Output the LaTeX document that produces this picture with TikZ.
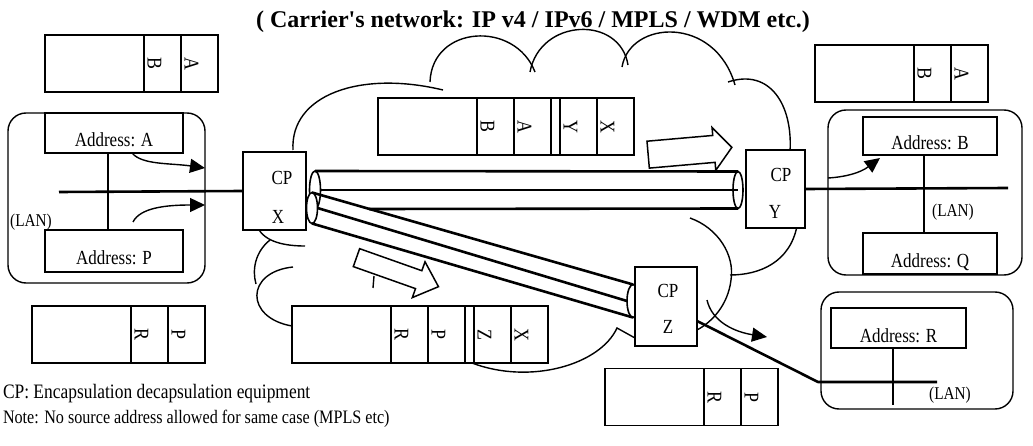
\documentclass[tikz,border=0pt]{standalone}
\usepackage{graphicx}
\usepackage{fontspec}
\setmainfont{Liberation Serif}
\newfontfamily\narrowfont{Liberation Serif}[FakeStretch=0.85]
\usetikzlibrary{arrows.meta,positioning,shapes.geometric}
\newcommand{\hdr}[1]{\rotatebox{-90}{\rule{0pt}{30pt}#1}}

\begin{document}
\begin{tikzpicture}[
  x=1pt, y=-1pt,
  node distance=0pt,
  every node/.style={outer sep=0pt},
  txt/.style={font=\narrowfont\fontsize{20}{20}\selectfont, inner sep=0pt},
  pay/.style={draw, line width=1.3pt, fill=white, minimum width=99pt, minimum height=57pt, inner sep=0pt, font=\narrowfont\fontsize{21}{21}\selectfont},
  fld/.style={pay, minimum width=37pt},
  gap/.style={pay, minimum width=9pt},
  addr/.style={draw, line width=1.3pt, fill=white, minimum height=40pt, inner sep=0pt, text height=28pt, text depth=0pt, font=\narrowfont\fontsize{20}{20}\selectfont},
  lan/.style={draw, line width=1.4pt, rounded corners=18pt, inner sep=0pt},
  cp/.style={draw, line width=2.8pt, fill=white, inner sep=0pt},
  ring/.style={ellipse, draw, line width=1.6pt, fill=white, inner sep=0pt},
  pipe/.style={line width=2.6pt},
  wire/.style={line width=2.6pt},
  cloudline/.style={line width=1.4pt},
  hop/.style={line width=1.4pt, -{Triangle[length=15pt,width=14pt]}},
  fat/.style={draw, line width=1.5pt, fill=white, line join=miter}
]
\useasboundingbox (0,0) rectangle (1033,446);

\node[font=\bfseries\fontsize{24}{24}\selectfont, anchor=base, inner sep=0pt] (title) at (533,28) {( Carrier\textquotesingle s network: IP v4 / IPv6 / MPLS / WDM etc.)};

% cloud of the carrier network
\draw[cloudline] (293,150) .. controls (290,95) and (360,70) .. (443,90);
\draw[cloudline] (430,82) .. controls (432,25) and (515,20) .. (535,72);
\draw[cloudline] (530,72) .. controls (540,18) and (620,15) .. (628,65);
\draw[cloudline] (622,67) .. controls (630,20) and (715,15) .. (735,85);
\draw[cloudline] (728,82) .. controls (770,68) and (793,105) .. (790,152);
\draw[cloudline] (797,226) .. controls (790,262) and (760,275) .. (730,275);
\draw[cloudline] (690,218) .. controls (718,228) and (735,255) .. (731,280) .. controls (728,305) and (712,322) .. (697,330);
\draw[cloudline] (635,338) -- (617,328) .. controls (600,365) and (530,385) .. (472,363);
\draw[cloudline] (292,326) .. controls (245,318) and (245,272) .. (293,267);
\draw[cloudline] (270,240) .. controls (255,252) and (252,270) .. (256,284);
\draw[cloudline] (258,228) .. controls (265,242) and (285,246) .. (305,246);
\draw[cloudline] (374,276) -- (373,288);

% tunnels
\node[ring, minimum width=11pt, minimum height=38pt] (ringxa) at (315,190) {};
\node[ring, minimum width=11pt, minimum height=31pt] (ringxb) at (312,208) {};
\node[ring, minimum width=10pt, minimum height=37pt, fill=none] (ringy) at (738,190) {};
\node[ring, minimum width=12pt, minimum height=33pt, fill=none] (ringz) at (633,301) {};
\coordinate (hb) at (369,209);
\draw[pipe] (ringxa.north) -- (ringy.north);
\draw[pipe] (ringxa.east) -- (ringy.center);
\draw[pipe] (hb) -- (ringy.south);
\draw[pipe] (ringxb.north) -- (ringz.north);
\draw[pipe] (ringxb.east) -- (ringz.west);
\draw[pipe] (ringxb.south) -- (ringz.south);

% CP equipment
\node[cp, minimum width=63pt, minimum height=78pt] (cpx) at (274.5,191) {};
\node[cp, minimum width=59pt, minimum height=78pt] (cpy) at (775.5,189) {};
\node[cp, minimum width=62pt, minimum height=79pt] (cpz) at (666,306.5) {};
\node[txt] (cpxa) at (282,178) {CP};
\node[txt] (cpxb) at (278,217) {X};
\node[txt] (cpya) at (781,175) {CP};
\node[txt] (cpyb) at (775,212) {Y};
\node[txt] (cpza) at (668,291) {CP};
\node[txt] (cpzb) at (668,327) {Z};

% packets
\node[pay] (pa) at (94.5,63.5) {};
\node[fld, right=of pa] (pab) {\hdr{B}};
\node[fld, right=of pab] (paa) {\hdr{A}};

\node[pay] (pb) at (864.5,73.5) {};
\node[fld, right=of pb] (pbb) {\hdr{B}};
\node[fld, right=of pbb] (pba) {\hdr{A}};

\node[pay] (pc) at (427.5,126.5) {};
\node[fld, right=of pc] (pcb) {\hdr{B}};
\node[fld, right=of pcb] (pca) {\hdr{A}};
\node[gap, right=of pca] (pcg) {};
\node[fld, right=of pcg] (pcy) {\hdr{Y}};
\node[fld, right=of pcy] (pcx) {\hdr{X}};

\node[pay] (pd) at (81.5,334.5) {};
\node[fld, right=of pd] (pdr) {\hdr{R}};
\node[fld, right=of pdr] (pdp) {\hdr{P}};

\node[pay] (pe) at (341.5,334.5) {};
\node[fld, right=of pe] (per) {\hdr{R}};
\node[fld, right=of per] (pep) {\hdr{P}};
\node[gap, right=of pep] (peg) {};
\node[fld, right=of peg] (pez) {\hdr{Z}};
\node[fld, right=of pez] (pex) {\hdr{X}};

\node[pay] (pf) at (654.5,397) {};
\node[fld, right=of pf] (pfr) {\hdr{R}};
\node[fld, right=of pfr] (pfp) {\hdr{P}};

% user LANs
\node[lan, minimum width=197pt, minimum height=170pt] (lana) at (106.5,198) {};
\node[lan, minimum width=194pt, minimum height=165pt] (lanb) at (925,192.5) {};
\node[lan, minimum width=192pt, minimum height=117pt] (lanr) at (917,350.5) {};
\node[addr, minimum width=138pt] (ada) at (114,133) {Address: A};
\node[addr, minimum width=138pt, minimum height=42pt] (adp) at (114,251) {Address: P};
\node[addr, minimum width=134pt, minimum height=38pt] (adb) at (930,136) {Address: B};
\node[addr, minimum width=134pt, minimum height=41pt] (adq) at (930,253.5) {Address: Q};
\node[addr, minimum width=135pt] (adr) at (898.5,328) {Address: R};
\node[txt, font=\narrowfont\fontsize{18}{18}\selectfont] (lanat) at (31,222) {(LAN)};
\node[txt, font=\narrowfont\fontsize{18}{18}\selectfont] (lanbt) at (953,212) {(LAN)};
\node[txt, font=\narrowfont\fontsize{18}{18}\selectfont] (lanrt) at (950,395) {(LAN)};

\coordinate (lanain) at (59,192);
\coordinate (lanbend) at (1008,188);
\coordinate (zbend) at (818,382);
\coordinate (lanrend) at (937,382);
\coordinate (lanrfoot) at (893,405);
\draw[wire] (lanain) -- (cpx.west);
\draw[wire] ([xshift=-6pt]ada.south) -- ([xshift=-6pt]adp.north);
\draw[wire] (cpy.east) -- (lanbend);
\draw[wire] ([xshift=-6pt]adb.south) -- ([xshift=-6pt]adq.north);
\draw[wire, line join=round] (cpz.-25) -- (zbend) -- (lanrend);
\draw[wire] ([xshift=-5.5pt]adr.south) -- (lanrfoot);

% traffic arrows
\coordinate (h1s) at (132,153);
\coordinate (h1e) at (205,168);
\coordinate (h2s) at (133,222);
\coordinate (h2e) at (205,205);
\coordinate (h3s) at (828,178);
\coordinate (h3e) at (880,158);
\coordinate (h4s) at (707,300);
\coordinate (h4e) at (767,337);
\draw[hop] (h1s) .. controls (142,165) and (170,163) .. (h1e);
\draw[hop] (h2s) .. controls (140,208) and (165,205) .. (h2e);
\draw[hop] (h3s) .. controls (845,177) and (860,173) .. (h3e);
\draw[hop] (h4s) .. controls (712,322) and (735,332) .. (h4e);

% direction of the tunnels
\draw[fat, shift={(690,151)}, rotate=5] (-42,-13.5) -- (24,-13.5) -- (24,-21.5) -- (42,0) -- (24,21.5) -- (24,13.5) -- (-42,13.5) -- cycle;
\draw[fat, shift={(397,272)}, rotate=-19.5] (-43,-9.5) -- (23,-9.5) -- (23,-19) -- (44,0) -- (23,19) -- (23,9.5) -- (-43,9.5) -- cycle;

\node[txt, anchor=base west, font=\narrowfont\fontsize{20.5}{20.5}\selectfont] (note1) at (3,398) {CP: Encapsulation decapsulation equipment};
\node[txt, anchor=base west, font=\narrowfont\fontsize{19}{19}\selectfont] (note2) at (3,423) {Note: No source address allowed for same case (MPLS etc)};
\end{tikzpicture}
\end{document}
